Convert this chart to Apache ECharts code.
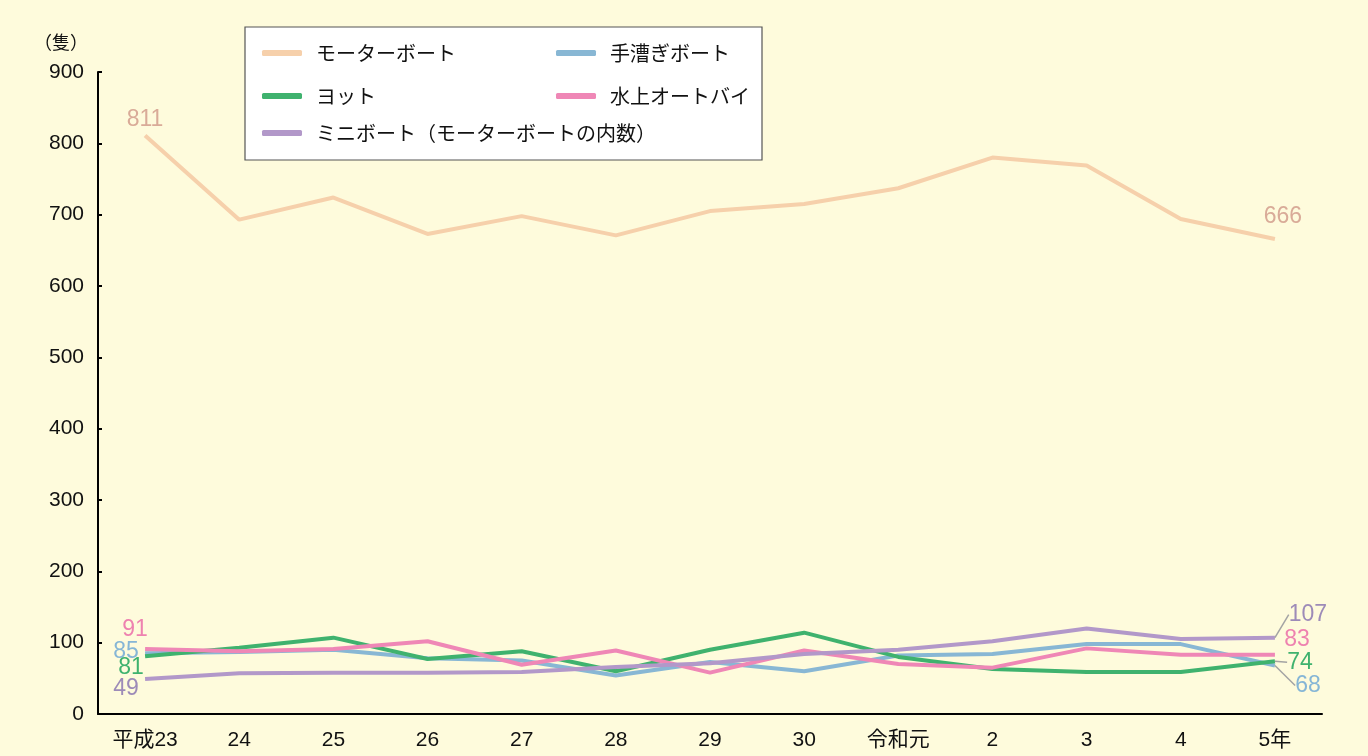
<!DOCTYPE html>
<html>
<head>
<meta charset="utf-8">
<script src="https://cdn.jsdelivr.net/npm/echarts@6/dist/echarts.min.js"></script>
<style>
  html, body { margin: 0; padding: 0; background: #fefbdc; }
  #chart { width: 1368px; height: 756px; }
</style>
</head>
<body>
<div id="chart"></div>
<script>
// 年次
const years = ["平成23", "24", "25", "26", "27", "28", "29", "30", "令和元", "2", "3", "4", "5年"];
// 隻数
const motorBoat = [811, 693, 724, 673, 698, 671, 705, 715, 737, 780, 769, 694, 666];
const rowingBoat = [85, 87, 90, 78, 75, 54, 73, 60, 82, 84, 98, 98, 68];
const yacht = [81, 93, 107, 77, 88, 60, 90, 114, 80, 63, 59, 59, 74];
const pwc = [91, 88, 91, 102, 69, 89, 58, 89, 70, 65, 92, 83, 83];
const miniBoat = [49, 57, 58, 58, 59, 66, 71, 84, 90, 102, 120, 105, 107];
const yTicks = [0, 100, 200, 300, 400, 500, 600, 700, 800, 900];

const FONT = "'Liberation Sans', 'Noto Sans CJK JP', sans-serif";
const JP_FONT = "'Noto Sans CJK JP', sans-serif";

let chartDom = document.getElementById("chart");
let myChart = echarts.init(chartDom);

// 最初と最後だけラベルを出す（位置は labelLayout でずらす）
const withEnds = (values, color, guideLast) =>
  values.map((v, i) => {
    if (i === 0 || i === values.length - 1) {
      return {
        value: v,
        label: { show: true, position: "inside", color: color },
        labelLine: { show: i === values.length - 1 && guideLast },
      };
    }
    return v;
  });

const moveEnds = (len, first, last) => (params) => {
  if (params.dataIndex === 0) return { dx: first[0], dy: first[1] };
  if (params.dataIndex === len - 1) return { dx: last[0], dy: last[1] };
  return {};
};

const makeSeries = (name, values, lineColor, labelColor, first, last, guideLast) => ({
  type: "line",
  name: name,
  data: withEnds(values, labelColor, guideLast),
  symbol: "circle",
  symbolSize: 0,
  showSymbol: true,
  itemStyle: { color: lineColor },
  lineStyle: { color: lineColor, width: 4 },
  label: { show: false, fontSize: 23, fontFamily: FONT },
  labelLayout: moveEnds(values.length, first, last),
  labelLine: { show: false, lineStyle: { color: "#a3a3a3", width: 1.5 } },
  emphasis: { disabled: true },
  z: 2,
});

const legendItem = (name, left, top) => ({
  data: [name],
  left: left,
  top: top,
  padding: 0,
  icon: "roundRect",
  itemWidth: 40,
  itemHeight: 6,
  selectedMode: false,
  textStyle: { fontSize: 20, color: "#111", fontFamily: JP_FONT, padding: [0, 0, 0, 9] },
});

let option = {
  backgroundColor: "#fefbdc",
  animation: false,
  grid: { left: 98, right: 46, top: 72, bottom: 42 },
  graphic: [
    {
      type: "rect",
      shape: { x: 245, y: 27, width: 517, height: 133 },
      style: { fill: "#ffffff", stroke: "#555", lineWidth: 1.2 },
      z: 0,
    },
  ],
  legend: [
    legendItem("モーターボート", 262, 43),
    legendItem("手漕ぎボート", 556, 43),
    legendItem("ヨット", 262, 86),
    legendItem("水上オートバイ", 556, 86),
    legendItem("ミニボート（モーターボートの内数）", 262, 123),
  ],
  xAxis: {
    type: "category",
    data: years,
    boundaryGap: true,
    axisLine: { lineStyle: { color: "#000", width: 2 } },
    axisTick: { show: false },
    axisLabel: { color: "#111", fontSize: 21, fontFamily: FONT, margin: 16 },
  },
  yAxis: {
    type: "value",
    min: yTicks[0],
    max: yTicks[yTicks.length - 1],
    interval: 100,
    name: "（隻）",
    nameLocation: "end",
    nameGap: 21,
    nameTextStyle: { color: "#111", fontSize: 18, fontFamily: JP_FONT, align: "right", padding: [0, 10, 0, 0] },
    axisLine: { show: true, lineStyle: { color: "#000", width: 2 } },
    axisTick: { show: true, inside: true, length: 4, lineStyle: { color: "#000", width: 2 } },
    splitLine: { show: false },
    axisLabel: { color: "#111", fontSize: 21, fontFamily: FONT, margin: 14 },
  },
  series: [
    makeSeries("モーターボート", motorBoat, "#f6d0ab", "#d9ab98", [0, -16], [8, -22], false),
    makeSeries("手漕ぎボート", rowingBoat, "#88b7d4", "#86b6d6", [-19, -2], [33, 20], true),
    makeSeries("ヨット", yacht, "#3fb26e", "#3fb26e", [-14, 11], [25, 1], true),
    makeSeries("水上オートバイ", pwc, "#ef87b6", "#ee82b0", [-10, -19], [22, -15], false),
    makeSeries("ミニボート（モーターボートの内数）", miniBoat, "#b298c9", "#9d8bb8", [-19, 10], [33, -23], true),
  ],
};

option && myChart.setOption(option);
</script>
</body>
</html>
